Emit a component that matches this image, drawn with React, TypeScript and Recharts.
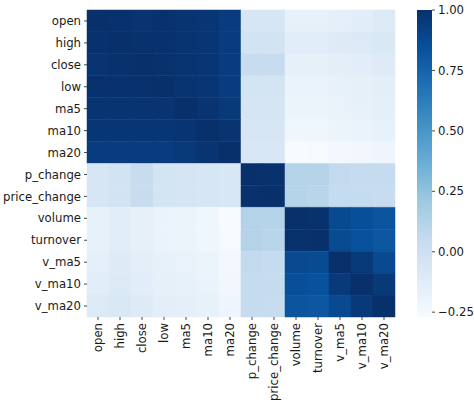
import { BarChart, Bar, Cell, XAxis, YAxis } from "recharts";

const labels = [
  "open", "high", "close", "low", "ma5", "ma10", "ma20",
  "p_change", "price_change", "volume", "turnover", "v_ma5", "v_ma10", "v_ma20",
];

// correlation rows, same order as labels
const corr: number[][] = [
  [1.0, 0.99, 0.98, 0.99, 0.98, 0.97, 0.94, -0.06, -0.06, -0.17, -0.17, -0.15, -0.13, -0.1],
  [0.99, 1.0, 0.99, 0.99, 0.98, 0.97, 0.94, -0.03, -0.03, -0.13, -0.13, -0.11, -0.1, -0.08],
  [0.98, 0.99, 1.0, 0.99, 0.98, 0.97, 0.94, 0.04, 0.04, -0.16, -0.16, -0.14, -0.13, -0.11],
  [0.99, 0.99, 0.99, 1.0, 0.98, 0.97, 0.94, -0.04, -0.04, -0.19, -0.19, -0.17, -0.16, -0.14],
  [0.98, 0.98, 0.98, 0.98, 1.0, 0.98, 0.95, -0.05, -0.05, -0.2, -0.2, -0.18, -0.17, -0.15],
  [0.97, 0.97, 0.97, 0.97, 0.98, 1.0, 0.98, -0.06, -0.06, -0.22, -0.22, -0.2, -0.19, -0.17],
  [0.94, 0.94, 0.94, 0.94, 0.95, 0.98, 1.0, -0.07, -0.07, -0.27, -0.26, -0.24, -0.23, -0.21],
  [-0.06, -0.03, 0.04, -0.04, -0.05, -0.06, -0.07, 1.0, 0.99, 0.12, 0.12, 0.06, 0.05, 0.05],
  [-0.06, -0.03, 0.04, -0.04, -0.05, -0.06, -0.07, 0.99, 1.0, 0.11, 0.1, 0.05, 0.05, 0.04],
  [-0.17, -0.13, -0.16, -0.19, -0.2, -0.22, -0.27, 0.12, 0.11, 1.0, 0.99, 0.88, 0.85, 0.82],
  [-0.17, -0.13, -0.16, -0.19, -0.2, -0.22, -0.26, 0.12, 0.1, 0.99, 1.0, 0.87, 0.84, 0.81],
  [-0.15, -0.11, -0.14, -0.17, -0.18, -0.2, -0.24, 0.06, 0.05, 0.88, 0.87, 1.0, 0.95, 0.88],
  [-0.13, -0.1, -0.13, -0.16, -0.17, -0.19, -0.23, 0.05, 0.05, 0.85, 0.84, 0.95, 1.0, 0.95],
  [-0.1, -0.08, -0.11, -0.14, -0.15, -0.17, -0.21, 0.05, 0.04, 0.82, 0.81, 0.88, 0.95, 1.0],
];

const cbTicks = [-0.25, 0, 0.25, 0.5, 0.75, 1.0];

// matplotlib "Blues"
const bluesStops = [
  "#f7fbff", "#deebf7", "#c6dbef", "#9ecae1", "#6baed6",
  "#4292c6", "#2171b5", "#08519c", "#08306b",
];

const vmin = Math.min(...corr.flat());
const vmax = 1;

const FONT = "DejaVu Sans";
const FS = 11.7;
const INK = "#1a1a1a";

const hexToRgb = (h: string) => [
  parseInt(h.slice(1, 3), 16),
  parseInt(h.slice(3, 5), 16),
  parseInt(h.slice(5, 7), 16),
];

const blues = (v: number) => {
  const t = Math.max(0, Math.min(1, (v - vmin) / (vmax - vmin)));
  const p = t * 8;
  const i = Math.min(7, Math.floor(p));
  const f = p - i;
  const a = hexToRgb(bluesStops[i]);
  const b = hexToRgb(bluesStops[i + 1]);
  const c = a.map((x, k) => Math.round(x + (b[k] - x) * f));
  return `rgb(${c[0]},${c[1]},${c[2]})`;
};

const rowKeys = labels.map((_, r) => `r${r}`);
const heatData = labels.map((name, c) => {
  const d: Record<string, string | number> = { name };
  rowKeys.forEach((k) => (d[k] = 1));
  return d;
});

const cbData = [{ name: "cb", span: [vmin, vmax] }];

const XTick = ({ x, y, payload }: any) => (
  <g transform={`translate(${x},${y})`}>
    <text
      transform="rotate(-90)"
      textAnchor="end"
      dy="0.35em"
      fontFamily={FONT}
      fontSize={FS}
      fill={INK}
    >
      {payload.value}
    </text>
  </g>
);

const App = () => {
  return (
    <div style={{ position: "absolute", left: 0, top: 0, width: 474, height: 403, background: "#fff" }}>
      <BarChart
        width={474}
        height={403}
        data={heatData}
        margin={{ top: 10, right: 79, bottom: 0, left: 0 }}
        barCategoryGap={0}
        barGap={0}
      >
        <XAxis
          dataKey="name"
          interval={0}
          height={86}
          axisLine={false}
          tickSize={3}
          tickMargin={3}
          tickLine={{ stroke: INK, strokeWidth: 0.8 }}
          tick={<XTick />}
        />
        <YAxis
          type="number"
          domain={[0, labels.length]}
          reversed
          width={87}
          ticks={labels.map((_, i) => i + 0.5)}
          interval={0}
          tickFormatter={(v: number) => labels[Math.floor(v)]}
          axisLine={false}
          tickSize={3}
          tickMargin={3}
          tickLine={{ stroke: INK, strokeWidth: 0.8 }}
          tick={{ fontFamily: FONT, fontSize: FS, fill: INK }}
        />
        {rowKeys.map((k, r) => (
          <Bar key={k} dataKey={k} stackId="a" isAnimationActive={false}>
            {labels.map((_, c) => (
              <Cell
                key={c}
                fill={blues(corr[r][c])}
                stroke={blues(corr[r][c])}
                strokeWidth={0.5}
              />
            ))}
          </Bar>
        ))}
      </BarChart>
      <div style={{ position: "absolute", left: 417, top: 0 }}>
        <BarChart
          width={72}
          height={403}
          data={cbData}
          margin={{ top: 10, right: 0, bottom: 86, left: 0 }}
          barCategoryGap={0}
        >
          <defs>
            <linearGradient id="bluesGrad" x1="0" y1="1" x2="0" y2="0">
              {bluesStops.map((c, i) => (
                <stop key={i} offset={i / 8} stopColor={c} />
              ))}
            </linearGradient>
          </defs>
          <XAxis dataKey="name" hide />
          <YAxis
            orientation="right"
            type="number"
            domain={[vmin, vmax]}
            ticks={cbTicks}
            interval={0}
            width={57}
            axisLine={false}
            tickSize={3}
            tickMargin={3}
            tickLine={{ stroke: INK, strokeWidth: 0.8 }}
            tickFormatter={(v: number) => v.toFixed(2).replace("-", "\u2212")}
            tick={{ fontFamily: FONT, fontSize: FS, fill: INK, textAnchor: "start" }}
          />
          <Bar dataKey="span" fill="url(#bluesGrad)" isAnimationActive={false} />
        </BarChart>
      </div>
    </div>
  );
};

export default App;
